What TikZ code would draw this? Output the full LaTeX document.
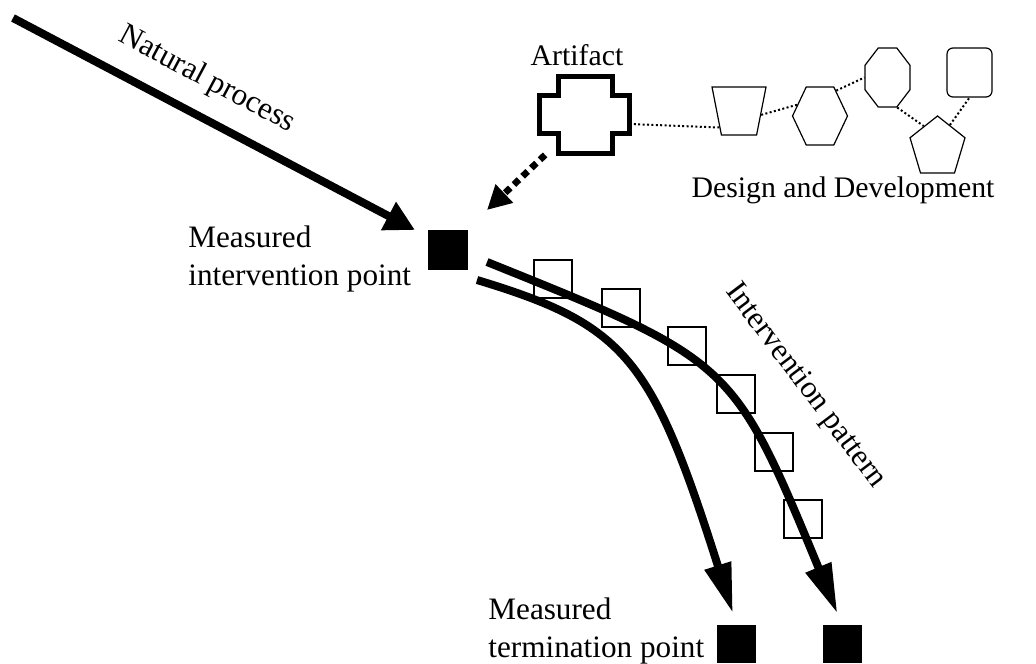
\documentclass[tikz,border=0pt]{standalone}
\usepackage{fontspec}
\setmainfont{Liberation Serif}
\usepackage{tikz}
\usetikzlibrary{calc}
\usetikzlibrary{shapes.geometric,arrows.meta}

\begin{document}
\begin{tikzpicture}[x=0.5pt,y=-0.5pt,
    lbl/.style={inner sep=0pt,font=\fontsize{15.6}{19}\selectfont},
    smalllbl/.style={inner sep=0pt,font=\fontsize{14.9}{18}\selectfont},
    thinshape/.style={draw,line width=0.6pt,inner sep=0pt},
    dotlink/.style={line width=1pt,dash pattern=on 1pt off 1.2pt},
    flow/.style={line width=4pt,-{Triangle[length=25pt,width=13pt]}},
    pointbox/.style={fill=black,inner sep=0pt,minimum width=20pt,minimum height=20pt},
    patbox/.style={draw,line width=0.6pt,inner sep=0pt,minimum size=19pt}]
    %FRAME
    \useasboundingbox (0,0) rectangle (1036,663);
    %COORDINATES
    \coordinate (npstart) at (13,18);
    \coordinate (npend) at (415,230);
    \coordinate (artin) at (487,210);
    \coordinate (outA) at (487,262);
    \coordinate (outB) at (477,280);
    %POINTS
    \node[pointbox] (mip) at (448,250) {};
    \node[pointbox,minimum width=19.5pt,minimum height=19pt] (mtpA) at (736.5,644) {};
    \node[pointbox,minimum width=19.5pt,minimum height=19pt] (mtpB) at (842,644) {};
    %ARTIFACT
    \node[minimum width=45pt,minimum height=38.5pt,inner sep=0pt] (art) at (584,116) {};
    \draw[line width=2.5pt] (558,77) -- (612,77) -- (612,96) -- (629,96) -- (629,134) -- (612,134)
        -- (612,154) -- (558,154) -- (558,134) -- (539,134) -- (539,96) -- (558,96) -- cycle;
    %DESIGN SHAPES
    \node[thinshape,inner sep=1pt,trapezium,trapezium stretches=true,trapezium left angle=75,trapezium right angle=75,
        shape border rotate=180,minimum width=27pt,minimum height=24pt] (trap) at (739,111) {};
    \node[thinshape,regular polygon,regular polygon sides=6,minimum size=27.5pt,yscale=1.22] (hex) at (820,116) {};
    \node[thinshape,regular polygon,regular polygon sides=8,minimum size=24.35pt,yscale=1.31] (oct) at (887.5,77.5) {};
    \node[thinshape,regular polygon,regular polygon sides=5,minimum size=28.9pt,yscale=1.09] (pent) at (937.5,147.5) {};
    \node[thinshape,rounded corners=3pt,minimum width=22.5pt,minimum height=24.5pt] (rsq) at (969.5,72.5) {};
    \draw[dotlink] (art.-10) -- (trap.220);
    \draw[dotlink] (trap.-10) -- (hex.158);
    \draw[dotlink] (hex.52) -- (oct.west);
    \draw[dotlink] (oct.-67) -- (pent.125);
    \draw[dotlink] (pent.59) -- (rsq.south);
    %PATTERN
    \foreach \x/\y [count=\i] in {553/279,621/308,687/346,736/394,774/452,803/519}
        \node[patbox] (pat\i) at (\x,\y) {};
    %ARROWS
    \draw[line width=4pt,-{Triangle[length=15pt,width=15pt]}] (npstart) -- (npend);
    \draw[line width=3.3pt,dash pattern=on 3.5pt off 2.5pt,-{Triangle[length=12pt,width=12pt]}] (art.-135) -- (artin);
    \draw[flow,shorten >=6pt] (outA) .. controls (733,361) .. (mtpB.north);
    \draw[flow,shorten >=6pt] (outB) .. controls (626,325) and (652,358) .. (mtpA.north);
    %LABELS
    \node[lbl,rotate=-28] (nplbl) at (207,80) {Natural process};
    \node[lbl,anchor=west,align=left] (miplbl) at (188,259) {Measured\\intervention point};
    \node[smalllbl] (artlbl) at (577,55) {Artifact};
    \node[smalllbl] (ddlbl) at (843,190) {Design and Development};
    \node[lbl,rotate=-53] (patlbl) at (805,386) {Intervention pattern};
    \node[lbl,anchor=west,align=left] (mtplbl) at (488,631) {Measured\\termination point};
\end{tikzpicture}
\end{document}
